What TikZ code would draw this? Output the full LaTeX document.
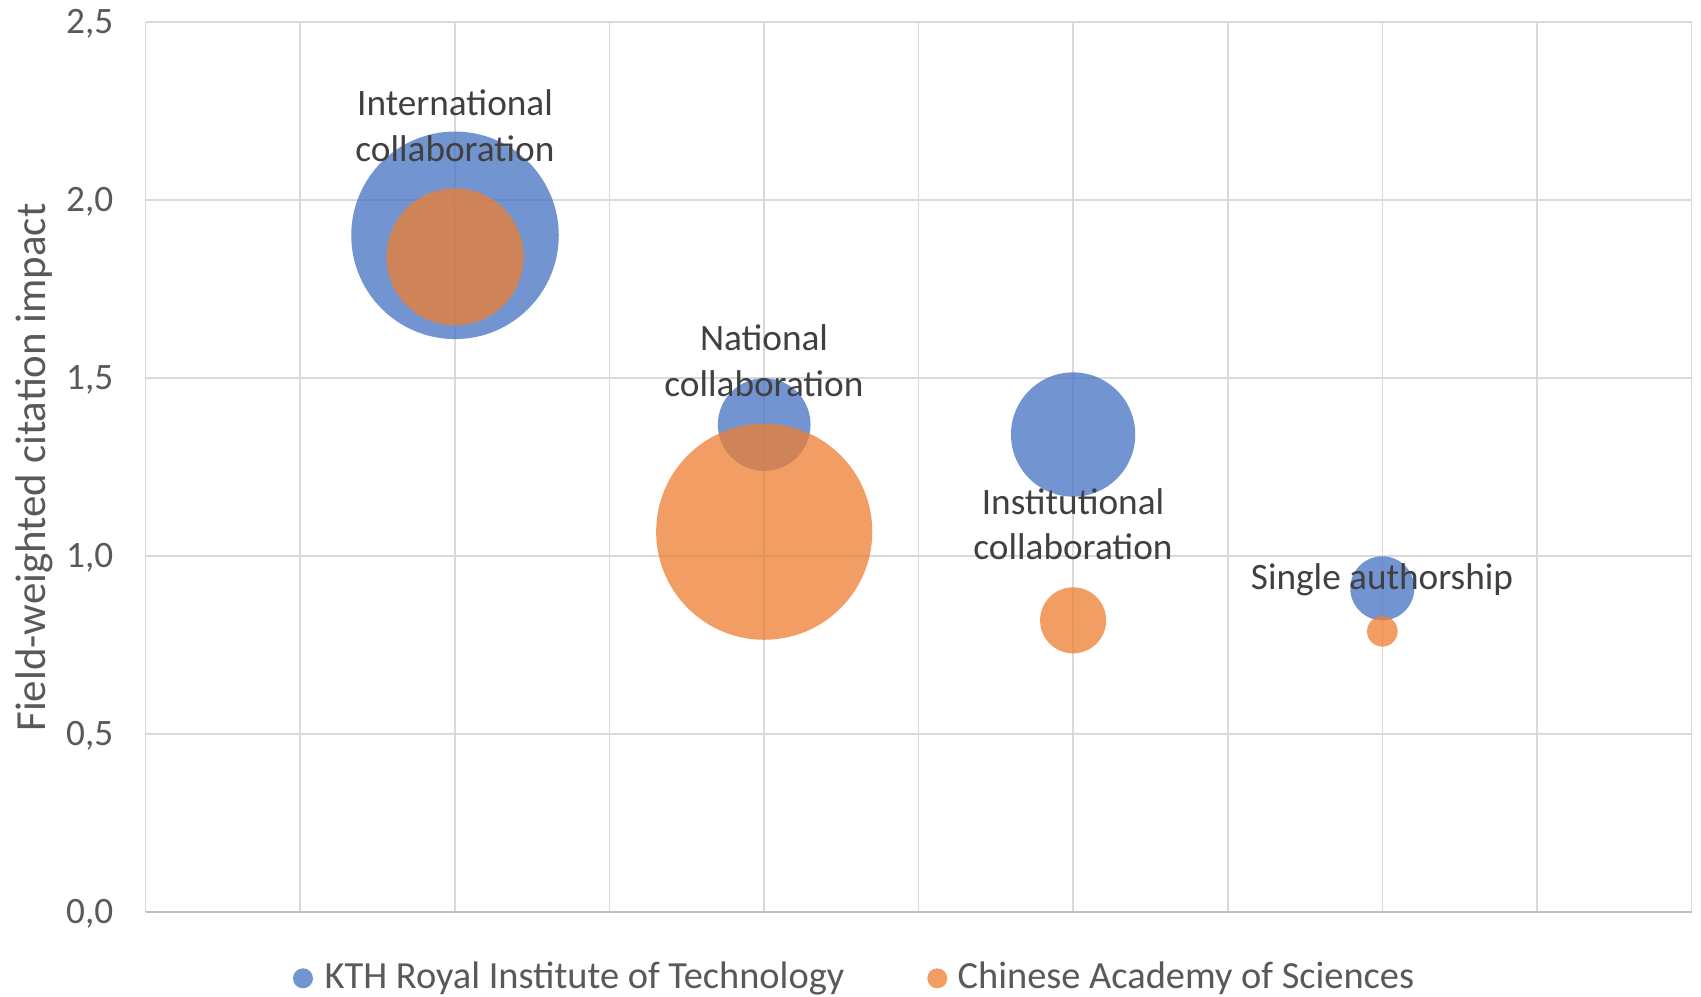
\documentclass[tikz,border=0pt]{standalone}
\usepackage{fontspec}
\setmainfont{Carlito}
\definecolor{kthblue}{HTML}{4472C4}
\definecolor{casorange}{HTML}{ED7D31}
\definecolor{gridgray}{HTML}{D9D9D9}
\definecolor{axisgray}{HTML}{BFBFBF}
\definecolor{labeltext}{HTML}{404040}
\definecolor{ticktext}{HTML}{595959}
\begin{document}
\begin{tikzpicture}[x=0.01cm,y=-0.01cm,
  gridline/.style={draw=gridgray,line width=0.45pt},
  axisline/.style={draw=axisgray,line width=0.6pt},
  bubK/.style={circle,inner sep=0pt,draw=none,fill=kthblue,fill opacity=0.75},
  bubC/.style={circle,inner sep=0pt,draw=none,fill=casorange,fill opacity=0.75},
  lbl/.style={anchor=base,inner sep=0pt,text=labeltext,font=\fontsize{10.6pt}{13pt}\selectfont},
  ticklbl/.style={anchor=base east,inner sep=0pt,text=ticktext,font=\fontsize{10.6pt}{12.5pt}\selectfont},
  legtext/.style={anchor=base west,inner sep=0pt,text=ticktext,font=\fontsize{10.92pt}{13pt}\selectfont},
  ytitlestyle/.style={anchor=base,rotate=90,inner sep=0pt,text=ticktext,font=\fontsize{12.2pt}{15pt}\selectfont}
]
\useasboundingbox[fill=white] (0,0) rectangle (1701,996);
% grid
\foreach \k in {1,...,10}
  \draw[gridline] ({145.5+154.6*\k},22) -- ({145.5+154.6*\k},912);
\foreach \yy in {22,200,378,556,734}
  \draw[gridline] (145.5,\yy) -- (1691.5,\yy);
\draw[gridline] (145.5,22) -- (145.5,912);
\draw[axisline] (145.5,912) -- (1691.5,912);
% tick labels
\node[ticklbl] (t25) at (114,33.4) {2,5};
\node[ticklbl] (t20) at (114,211.4) {2,0};
\node[ticklbl] (t15) at (114,389.4) {1,5};
\node[ticklbl] (t10) at (114,567.4) {1,0};
\node[ticklbl] (t05) at (114,745.4) {0,5};
\node[ticklbl] (t00) at (114,923.4) {0,0};
% axis title
\node[ytitlestyle] (ytitle) at (45.7,467.5) {Field-weighted citation impact};
% bubbles: KTH
\node[bubK,minimum size=2.074cm] (intK) at (455,235.3) {};
\node[bubK,minimum size=0.926cm] (natK) at (764.2,424.5) {};
\node[bubK,minimum size=1.242cm] (insK) at (1073.1,434.5) {};
\node[bubK,minimum size=0.64cm] (sinK) at (1382.3,588.3) {};
% bubbles: CAS
\node[bubC,minimum size=1.37cm] (intC) at (455,256.8) {};
\node[bubC,minimum size=2.16cm] (natC) at (764.2,531.7) {};
\node[bubC,minimum size=0.66cm] (insC) at (1073.1,620.3) {};
\node[bubC,minimum size=0.306cm] (sinC) at (1382.3,631.3) {};
% data labels
\node[lbl] (intL1) at (455,115) {International};
\node[lbl] (intL2) at (455,161) {collaboration};
\node[lbl] (natL1) at (764,350.7) {National};
\node[lbl] (natL2) at (764,396.7) {collaboration};
\node[lbl] (insL1) at (1073,514) {Institutional};
\node[lbl] (insL2) at (1073,559.3) {collaboration};
\node[lbl] (sinL) at (1382,589.3) {Single authorship};
% legend
\node[bubK,minimum size=0.2cm] (legK) at (303,978.3) {};
\node[legtext] (legKt) at (324,988.3) {KTH Royal Institute of Technology};
\node[bubC,minimum size=0.2cm] (legC) at (937.3,978.3) {};
\node[legtext] (legCt) at (957,988.3) {Chinese Academy of Sciences};
\end{tikzpicture}
\end{document}
